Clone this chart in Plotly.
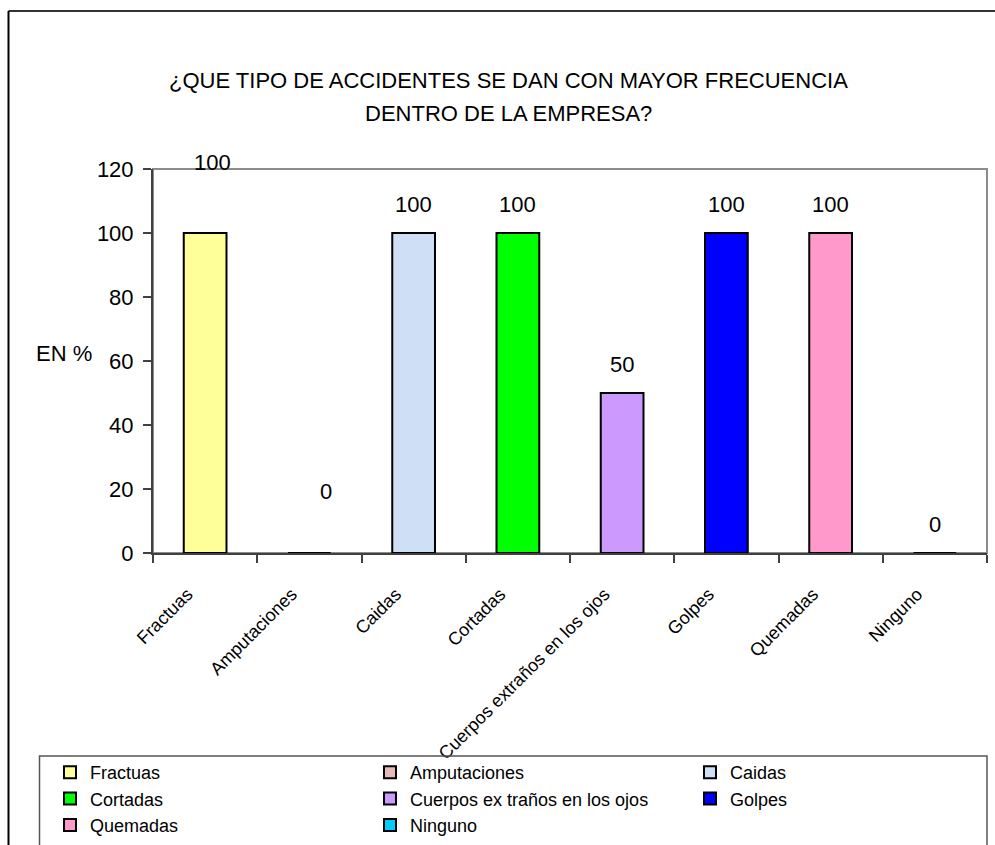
import plotly.graph_objects as go

categories = ["Fractuas", "Amputaciones", "Caidas", "Cortadas",
              "Cuerpos extraños en los ojos", "Golpes", "Quemadas", "Ninguno"]
legend_names = ["Fractuas", "Amputaciones", "Caidas", "Cortadas",
                "Cuerpos ex traños en los ojos", "Golpes", "Quemadas", "Ninguno"]
values = [100, 0, 100, 100, 50, 100, 100, 0]
colors = ["#FFFF99", "#E6B9B8", "#CFE0F6", "#00FF00",
          "#CC99FF", "#0000FF", "#FF99CC", "#00CCFF"]
# label pixel offsets (x, y) relative to top of bar
label_shift = [(7, 56), (17, 47), (0, 14), (0, 14), (0, 14), (0, 14), (0, 14), (0, 14)]
y_ticks = [0, 20, 40, 60, 80, 100, 120]
title_lines = ["¿QUE TIPO DE ACCIDENTES SE DAN CON MAYOR FRECUENCIA",
               "DENTRO DE LA EMPRESA?"]

FONT = "Liberation Sans, Arial, sans-serif"
PAD = "\u00a0" * 5  # nudges rotated tick labels left like the original

# plot area pixel geometry
L, R, T, B = 153, 987, 169, 553
W, H = 995, 845
PW, PH = R - L, B - T

def px(x):
    return (x - L) / PW

def py(y):
    return (B - y) / PH

fig = go.Figure()
for cat, name, val, col in zip(categories, legend_names, values, colors):
    fig.add_trace(go.Bar(
        x=[cat], y=[val], name=name, width=0.41,
        marker=dict(color=col, line=dict(color="#000000", width=2)),
        cliponaxis=False,
    ))

for cat, val, (dx, dy) in zip(categories, values, label_shift):
    fig.add_annotation(x=cat, y=val, text=str(val), showarrow=False,
                       xref="x", yref="y", yanchor="bottom", xanchor="center",
                       xshift=dx, yshift=dy,
                       font=dict(family=FONT, size=22, color="#000000"))

# y axis title
fig.add_annotation(x=px(64), y=py(353), xref="paper", yref="paper",
                   xanchor="center", yanchor="middle",
                   text="EN %", showarrow=False,
                   font=dict(family=FONT, size=22, color="#000000"))

# title (two lines)
for line, yc in zip(title_lines, [80, 113]):
    fig.add_annotation(x=px(508), y=py(yc), xref="paper", yref="paper",
                       xanchor="center", yanchor="middle",
                       text=line, showarrow=False,
                       font=dict(family=FONT, size=22, color="#000000"))

shapes = [
    # plot area border (gray)
    dict(type="rect", xref="paper", yref="paper", x0=0, y0=0, x1=1, y1=1,
         line=dict(color="#8C8C8C", width=2), layer="below"),
    # outer chart frame
    dict(type="line", xref="paper", yref="paper", x0=px(8.5), y0=py(11), x1=px(1000), y1=py(11),
         line=dict(color="#333333", width=2)),
    dict(type="line", xref="paper", yref="paper", x0=px(8.5), y0=py(11), x1=px(8.5), y1=py(850),
         line=dict(color="#000000", width=2)),
    # legend box
    dict(type="rect", xref="paper", yref="paper", x0=px(39.5), y0=py(756), x1=px(987), y1=py(900),
         line=dict(color="#555555", width=1.5)),
]

fig.update_layout(
    width=W, height=H,
    margin=dict(l=L, r=W - R, t=T, b=H - B, autoexpand=False),
    paper_bgcolor="white", plot_bgcolor="white",
    barmode="overlay",
    showlegend=True,
    shapes=shapes,
    font=dict(family=FONT, size=18, color="#000000"),
    legend=dict(orientation="h", x=px(50), y=py(754), xanchor="left", yanchor="top",
                entrywidth=275, entrywidthmode="pixels",
                font=dict(family=FONT, size=18, color="#000000"),
                bgcolor="rgba(0,0,0,0)", traceorder="normal", itemclick=False),
    xaxis=dict(type="category", categoryorder="array", categoryarray=categories,
               tickmode="array", tickvals=categories,
               ticktext=[c + PAD for c in categories],
               tickangle=-45, ticks="outside", ticklen=8, tickwidth=1.5,
               tickcolor="#404040", tickson="boundaries",
               showline=True, linecolor="#404040", linewidth=2,
               showgrid=False, zeroline=False, automargin=False,
               tickfont=dict(family=FONT, size=18, color="#000000"),
               ticklabelstandoff=4),
    yaxis=dict(range=[0, 120], tickvals=y_ticks, ticks="outside", ticklen=8,
               tickwidth=1.5, tickcolor="#404040",
               showline=True, linecolor="#404040", linewidth=2,
               showgrid=False, zeroline=False, automargin=False,
               tickfont=dict(family=FONT, size=22, color="#000000"),
               ticklabelstandoff=5),
)

fig.write_html("out.html")
